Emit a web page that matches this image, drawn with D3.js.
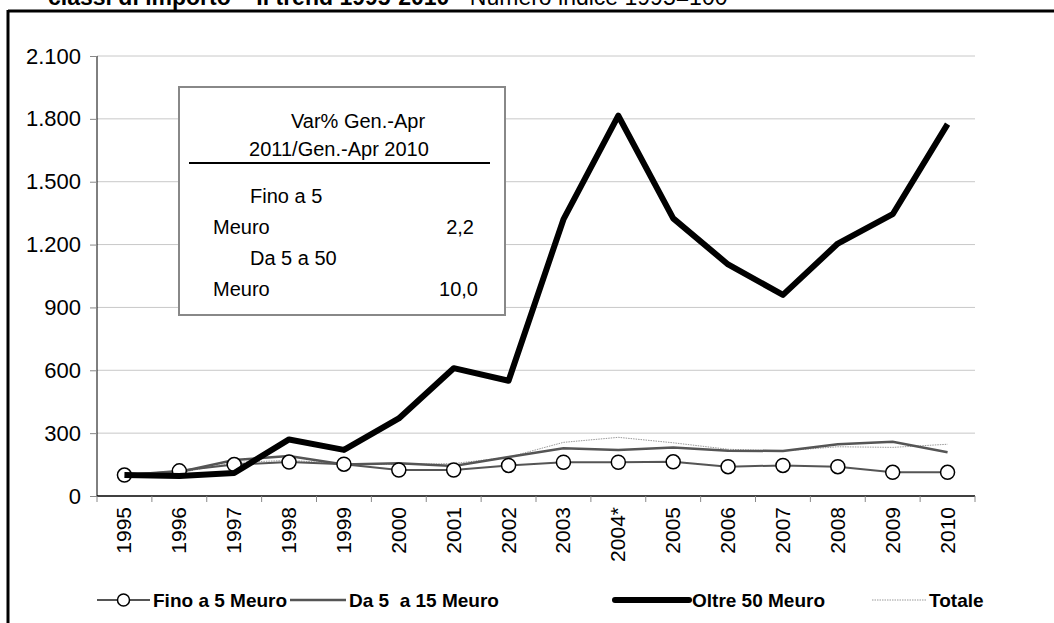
<!DOCTYPE html>
<html>
<head>
<meta charset="utf-8">
<script src="https://cdn.jsdelivr.net/npm/d3@7"></script>
<style>
  body { margin: 0; background: #fff; }
  svg { display: block; font-family: "Liberation Sans", Arial, sans-serif; }
</style>
</head>
<body>
<svg width="1054" height="623"></svg>
<script>
const years = ["1995", "1996", "1997", "1998", "1999", "2000", "2001", "2002", "2003", "2004*", "2005", "2006", "2007", "2008", "2009", "2010"];
const fino5 = [100, 120, 150, 162, 152, 124, 124, 146, 161, 161, 163, 140, 146, 140, 113, 113];
const da5a15 = [100, 115, 172, 191, 150, 156, 143, 186, 228, 220, 231, 216, 215, 247, 259, 209];
const oltre50 = [100, 95, 110, 270, 220, 370, 610, 550, 1320, 1815, 1325, 1105, 960, 1205, 1345, 1775];
const totale = [100, 110, 160, 170, 155, 150, 155, 185, 256, 280, 254, 223, 215, 235, 232, 247];
const yTicks = [0, 300, 600, 900, 1200, 1500, 1800, 2100];
const legendLabels = ["Fino a 5 Meuro", "Da 5  a 15 Meuro", "Oltre 50 Meuro", "Totale"];
const boxRows = [["Fino a 5", ""], ["Meuro", "2,2"], ["Da 5 a 50", ""], ["Meuro", "10,0"]];

const svg = d3.select("svg");
const margin = { top: 56, right: 79, bottom: 127, left: 97 };
const width = 1054 - margin.left - margin.right,
      height = 623 - margin.top - margin.bottom;

const fmt = d3.formatLocale({ decimal: ",", thousands: ".", grouping: [3], currency: ["", ""] }).format(",");

// frame (top and left edges only, the rest is cut off)
svg.append("line").attr("x1", 8).attr("x2", 1054).attr("y1", 11).attr("y2", 11)
    .attr("stroke", "#000").attr("stroke-width", 3);
svg.append("line").attr("x1", 8).attr("x2", 8).attr("y1", 10).attr("y2", 623)
    .attr("stroke", "#000").attr("stroke-width", 3);

// title, cut at the top of the page as in the source
const title = svg.append("text").attr("x", 48).attr("y", 5).style("font-size", "23px");
title.append("tspan").style("font-weight", "bold").text("classi di importo – Il trend 1995-2010");
title.append("tspan").text(" - Numero indice 1995=100");

const g = svg.append("g").attr("transform", `translate(${margin.left},${margin.top})`);

const xBand = d3.scaleBand().domain(years).range([0, width]);
const x = d => xBand(d) + xBand.bandwidth() / 2;
const y = d3.scaleLinear().domain([0, 2100]).range([height, 0]);

// gridlines
g.selectAll(".grid").data(yTicks.filter(d => d > 0)).enter().append("line")
    .attr("x1", 0).attr("x2", width)
    .attr("y1", d => y(d)).attr("y2", d => y(d))
    .attr("stroke", "#c8c8c8").attr("stroke-width", 1);

// y axis
const yAxis = g.append("g")
    .call(d3.axisLeft(y).tickValues(yTicks).tickFormat(fmt).tickSize(7).tickPadding(9));
yAxis.select(".domain").attr("stroke", "#000").attr("d", `M0,0V${height}`);
yAxis.selectAll(".tick line").attr("stroke", "#888");
yAxis.selectAll("text").style("font-size", "22px").attr("fill", "#000");

// x axis
const xAxis = g.append("g").attr("transform", `translate(0,${height})`);
xAxis.append("line").attr("x1", 0).attr("x2", width).attr("stroke", "#000").attr("stroke-width", 1.5);
const edges = years.map(d => xBand(d)).concat([width]);
xAxis.selectAll(".xt").data(edges).enter().append("line")
    .attr("x1", d => d).attr("x2", d => d).attr("y1", 0).attr("y2", 6)
    .attr("stroke", "#888");
xAxis.selectAll(".xl").data(years).enter().append("text")
    .attr("transform", d => `translate(${x(d) + 7},11) rotate(-90)`)
    .attr("text-anchor", "end")
    .style("font-size", "21px")
    .text(d => d);

// annotation box
const box = g.append("g");
box.append("rect").attr("x", 82).attr("y", 31).attr("width", 326).attr("height", 228)
    .attr("fill", "#fff").attr("stroke", "#888").attr("stroke-width", 2);
box.append("text").attr("x", 261).attr("y", 72).attr("text-anchor", "middle")
    .style("font-size", "20px").text("Var% Gen.-Apr");
box.append("text").attr("x", 242).attr("y", 100).attr("text-anchor", "middle")
    .style("font-size", "20px").text("2011/Gen.-Apr 2010");
box.append("line").attr("x1", 92).attr("x2", 393).attr("y1", 107).attr("y2", 107)
    .attr("stroke", "#000").attr("stroke-width", 2);
const valRight = [0, 377, 0, 381];
boxRows.forEach((r, i) => {
    const ty = 147 + i * 31;
    box.append("text").attr("x", i % 2 === 0 ? 153 : 116).attr("y", ty)
        .style("font-size", "20px").text(r[0]);
    if (r[1]) box.append("text").attr("x", valRight[i]).attr("y", ty).attr("text-anchor", "end")
        .style("font-size", "20px").text(r[1]);
});

const line = d3.line().x((d, i) => x(years[i])).y(d => y(d));

g.append("path").datum(totale).attr("d", line).attr("fill", "none")
    .attr("stroke", "#999").attr("stroke-width", 1).attr("stroke-dasharray", "1.5,1");
g.append("path").datum(da5a15).attr("d", line).attr("fill", "none")
    .attr("stroke", "#555").attr("stroke-width", 2.5);
g.append("path").datum(fino5).attr("d", line).attr("fill", "none")
    .attr("stroke", "#555").attr("stroke-width", 2);
g.selectAll(".dot").data(fino5).enter().append("circle")
    .attr("cx", (d, i) => x(years[i])).attr("cy", d => y(d)).attr("r", 7)
    .attr("fill", "#fff").attr("stroke", "#000").attr("stroke-width", 1.5);
g.append("path").datum(oltre50).attr("d", line).attr("fill", "none")
    .attr("stroke", "#000").attr("stroke-width", 6).attr("stroke-linejoin", "round");

// legend
const lg = svg.append("g").attr("transform", "translate(0,600)");
const items = [
    { x: 97, w: 53, label: legendLabels[0], stroke: "#555", sw: 2, dot: true },
    { x: 290, w: 56, label: legendLabels[1], stroke: "#555", sw: 2.5 },
    { x: 615, w: 74, label: legendLabels[2], stroke: "#000", sw: 6 },
    { x: 872, w: 54, label: legendLabels[3], stroke: "#999", sw: 1, dash: "1.5,1" }
];
items.forEach(it => {
    lg.append("line").attr("x1", it.x).attr("x2", it.x + it.w).attr("y1", 0).attr("y2", 0)
        .attr("stroke", it.stroke).attr("stroke-width", it.sw)
        .attr("stroke-dasharray", it.dash || null).attr("stroke-linecap", it.sw > 4 ? "round" : null);
    if (it.dot) lg.append("circle").attr("cx", it.x + it.w / 2).attr("cy", 0).attr("r", 6)
        .attr("fill", "#fff").attr("stroke", "#000").attr("stroke-width", 1.5);
    lg.append("text").attr("x", it.x + it.w + 3).attr("y", 7)
        .style("font-size", "19px").style("font-weight", "bold").style("white-space", "pre")
        .text(it.label);
});
</script>
</body>
</html>
